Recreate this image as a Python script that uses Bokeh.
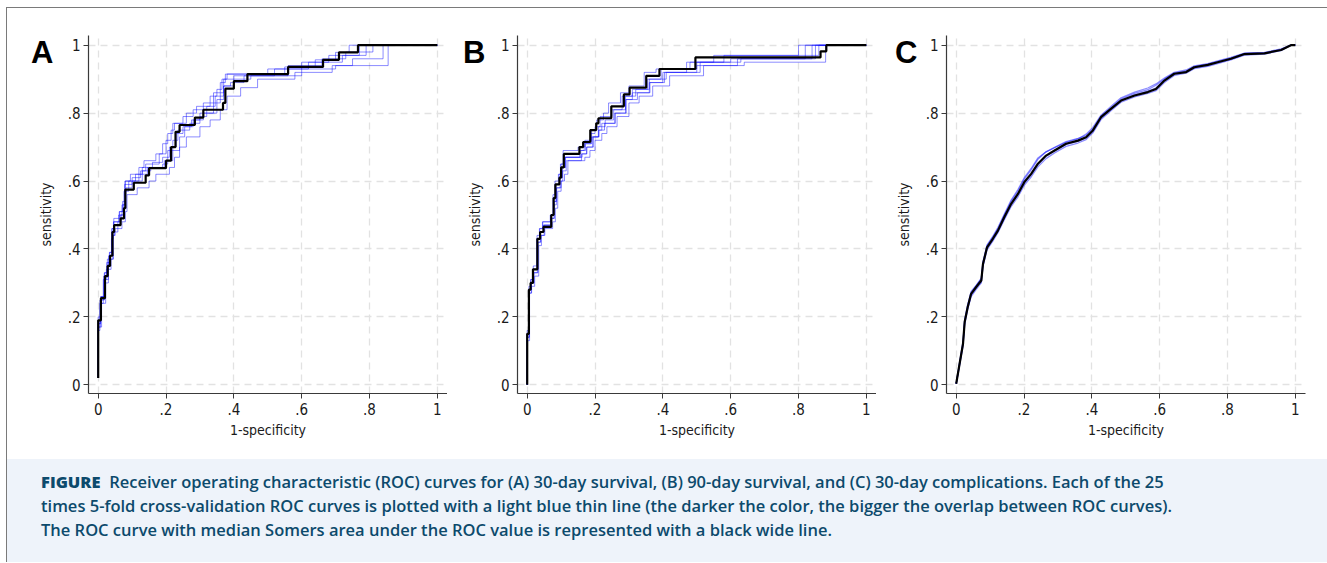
from bokeh.plotting import figure
from bokeh.models import Range1d, FixedTicker, Div, LinearAxis
from bokeh.layouts import row, column
from bokeh.embed import file_html
from bokeh.resources import INLINE

# ---------------- data ----------------
tick_values = [0, 0.2, 0.4, 0.6, 0.8, 1]
tick_labels = ["0", ".2", ".4", ".6", ".8", "1"]
panel_letters = ["A", "B", "C"]
x_title = "1-specificity"
y_title = "sensitivity"

# Panel A (30-day survival): step corners (fpr, tpr)
a_black_fpr = [0, 0, 0.008, 0.02, 0.028, 0.035, 0.042, 0.047, 0.066, 0.076, 0.08, 0.105, 0.14, 0.15, 0.2,
               0.215, 0.228, 0.24, 0.285, 0.31, 0.368, 0.375, 0.40, 0.44, 0.56, 0.663, 0.71, 0.766, 1.0]
a_black_tpr = [0.02, 0.19, 0.255, 0.32, 0.35, 0.38, 0.45, 0.47, 0.49, 0.52, 0.575, 0.595, 0.617, 0.638, 0.66,
               0.70, 0.745, 0.765, 0.787, 0.81, 0.83, 0.872, 0.894, 0.915, 0.936, 0.957, 0.979, 1.0, 1.0]
a_blue1_fpr = [0, 0, 0.006, 0.016, 0.025, 0.032, 0.04, 0.045, 0.06, 0.07, 0.078, 0.1, 0.125, 0.14, 0.18, 0.2,
               0.215, 0.225, 0.26, 0.29, 0.33, 0.35, 0.365, 0.38, 0.55, 0.64, 0.7, 0.74, 1]
a_blue1_tpr = [0.02, 0.17, 0.25, 0.32, 0.36, 0.38, 0.45, 0.48, 0.5, 0.53, 0.59, 0.61, 0.63, 0.65, 0.68, 0.72,
               0.75, 0.77, 0.8, 0.82, 0.85, 0.87, 0.9, 0.915, 0.936, 0.957, 0.979, 1, 1]
a_blue2_fpr = [0, 0, 0.01, 0.022, 0.03, 0.038, 0.045, 0.05, 0.07, 0.08, 0.085, 0.115, 0.15, 0.17, 0.21, 0.225,
               0.24, 0.26, 0.3, 0.33, 0.36, 0.38, 0.42, 0.47, 0.58, 0.69, 0.75, 0.84, 1]
a_blue2_tpr = [0.02, 0.17, 0.24, 0.3, 0.34, 0.37, 0.44, 0.46, 0.48, 0.51, 0.56, 0.58, 0.6, 0.62, 0.64, 0.67,
               0.7, 0.73, 0.76, 0.78, 0.81, 0.85, 0.875, 0.9, 0.92, 0.94, 0.96, 1, 1]
a_blue3_fpr = [0, 0, 0.007, 0.018, 0.027, 0.034, 0.041, 0.046, 0.062, 0.072, 0.08, 0.11, 0.13, 0.16, 0.19, 0.21,
               0.23, 0.25, 0.275, 0.3, 0.34, 0.36, 0.37, 0.45, 0.6, 0.7, 0.855, 1]
a_blue3_tpr = [0.02, 0.18, 0.26, 0.33, 0.37, 0.39, 0.46, 0.49, 0.51, 0.54, 0.6, 0.62, 0.64, 0.655, 0.67, 0.7,
               0.74, 0.76, 0.78, 0.8, 0.83, 0.86, 0.9, 0.91, 0.93, 0.94, 1, 1]
a_blue4_fpr = [0, 0, 0.009, 0.018, 0.03, 0.036, 0.043, 0.048, 0.065, 0.075, 0.082, 0.1, 0.12, 0.145, 0.19, 0.205,
               0.22, 0.235, 0.27, 0.3, 0.32, 0.345, 0.37, 0.4, 0.52, 0.62, 0.72, 0.79, 1]
a_blue4_tpr = [0.02, 0.2, 0.26, 0.31, 0.36, 0.37, 0.44, 0.47, 0.5, 0.52, 0.58, 0.6, 0.62, 0.64, 0.65, 0.69,
               0.72, 0.75, 0.77, 0.79, 0.82, 0.85, 0.88, 0.91, 0.93, 0.95, 0.97, 1, 1]
a_blue5_fpr = [0, 0, 0.005, 0.015, 0.024, 0.031, 0.039, 0.044, 0.058, 0.068, 0.076, 0.09, 0.13, 0.155, 0.195, 0.22,
               0.24, 0.255, 0.28, 0.31, 0.35, 0.37, 0.39, 0.43, 0.56, 0.66, 0.73, 0.81, 1]
a_blue5_tpr = [0.02, 0.16, 0.24, 0.31, 0.34, 0.38, 0.43, 0.45, 0.48, 0.5, 0.57, 0.6, 0.63, 0.64, 0.66, 0.69,
               0.73, 0.76, 0.78, 0.8, 0.84, 0.88, 0.89, 0.91, 0.94, 0.96, 0.98, 1, 1]
a_blue6_fpr = [0, 0, 0.006, 0.019, 0.026, 0.033, 0.04, 0.046, 0.063, 0.073, 0.079, 0.095, 0.12, 0.135, 0.17, 0.19,
               0.205, 0.22, 0.25, 0.28, 0.31, 0.34, 0.36, 0.375, 0.5, 0.6, 0.68, 0.77, 1]
a_blue6_tpr = [0.02, 0.18, 0.25, 0.33, 0.35, 0.39, 0.46, 0.48, 0.51, 0.53, 0.6, 0.62, 0.64, 0.66, 0.68, 0.71,
               0.74, 0.77, 0.79, 0.81, 0.83, 0.86, 0.89, 0.915, 0.93, 0.95, 0.97, 1, 1]

# Panel B (90-day survival)
b_black_fpr = [0, 0, 0.005, 0.01, 0.017, 0.03, 0.038, 0.048, 0.071, 0.078, 0.083, 0.095, 0.1, 0.108, 0.154,
               0.165, 0.186, 0.2035, 0.21, 0.248, 0.285, 0.302, 0.351, 0.39, 0.496, 0.865, 0.882, 1.0]
b_black_tpr = [0, 0.15, 0.28, 0.3, 0.34, 0.43, 0.45, 0.465, 0.5, 0.55, 0.59, 0.61, 0.64, 0.68, 0.70,
               0.715, 0.75, 0.77, 0.785, 0.82, 0.855, 0.875, 0.91, 0.93, 0.964, 0.982, 1.0, 1.0]
b_blue1_fpr = [0, 0, 0.006, 0.012, 0.02, 0.032, 0.04, 0.05, 0.07, 0.08, 0.087, 0.1, 0.105, 0.115, 0.16, 0.175,
               0.195, 0.21, 0.22, 0.26, 0.29, 0.31, 0.36, 0.4, 0.5, 0.62, 0.82, 1]
b_blue1_tpr = [0, 0.14, 0.27, 0.3, 0.33, 0.42, 0.44, 0.47, 0.49, 0.54, 0.58, 0.6, 0.63, 0.66, 0.68, 0.7,
               0.73, 0.75, 0.77, 0.8, 0.84, 0.86, 0.89, 0.92, 0.94, 0.96, 1, 1]
b_blue2_fpr = [0, 0, 0.005, 0.011, 0.018, 0.028, 0.036, 0.046, 0.068, 0.076, 0.082, 0.092, 0.098, 0.106, 0.15, 0.17,
               0.19, 0.205, 0.225, 0.24, 0.275, 0.3, 0.345, 0.38, 0.48, 0.58, 0.86, 1]
b_blue2_tpr = [0, 0.15, 0.29, 0.31, 0.35, 0.43, 0.46, 0.48, 0.5, 0.56, 0.6, 0.62, 0.65, 0.69, 0.7, 0.72,
               0.75, 0.78, 0.8, 0.83, 0.86, 0.88, 0.92, 0.93, 0.95, 0.97, 1, 1]
b_blue3_fpr = [0, 0, 0.007, 0.013, 0.022, 0.034, 0.042, 0.052, 0.075, 0.083, 0.09, 0.1, 0.11, 0.12, 0.17, 0.185,
               0.2, 0.22, 0.235, 0.265, 0.3, 0.33, 0.37, 0.42, 0.52, 0.64, 0.88, 1]
b_blue3_tpr = [0, 0.13, 0.27, 0.29, 0.32, 0.41, 0.44, 0.46, 0.48, 0.52, 0.57, 0.6, 0.62, 0.66, 0.67, 0.69,
               0.72, 0.74, 0.76, 0.79, 0.83, 0.85, 0.88, 0.91, 0.94, 0.95, 1, 1]
b_blue4_fpr = [0, 0, 0.004, 0.01, 0.016, 0.029, 0.037, 0.045, 0.07, 0.077, 0.084, 0.094, 0.1, 0.11, 0.155, 0.168,
               0.188, 0.2, 0.215, 0.25, 0.28, 0.31, 0.355, 0.395, 0.5, 0.6, 0.84, 1]
b_blue4_tpr = [0, 0.16, 0.28, 0.31, 0.34, 0.44, 0.46, 0.48, 0.5, 0.55, 0.59, 0.62, 0.65, 0.67, 0.69, 0.71,
               0.74, 0.76, 0.79, 0.81, 0.85, 0.87, 0.9, 0.93, 0.95, 0.96, 1, 1]
b_blue5_fpr = [0, 0, 0.006, 0.012, 0.019, 0.031, 0.039, 0.049, 0.072, 0.079, 0.086, 0.097, 0.102, 0.112, 0.158, 0.172,
               0.19, 0.21, 0.23, 0.255, 0.29, 0.32, 0.36, 0.41, 0.47, 0.55, 0.8, 1]
b_blue5_tpr = [0, 0.14, 0.28, 0.3, 0.34, 0.42, 0.45, 0.47, 0.49, 0.53, 0.58, 0.61, 0.64, 0.67, 0.69, 0.71,
               0.73, 0.76, 0.78, 0.81, 0.85, 0.87, 0.9, 0.92, 0.95, 0.97, 1, 1]
b_blue6_fpr = [0, 0, 0.005, 0.011, 0.018, 0.03, 0.038, 0.047, 0.069, 0.078, 0.085, 0.096, 0.104, 0.113, 0.162, 0.176,
               0.193, 0.212, 0.228, 0.258, 0.292, 0.325, 0.362, 0.405, 0.51, 0.63, 0.85, 1]
b_blue6_tpr = [0, 0.15, 0.28, 0.3, 0.33, 0.43, 0.45, 0.47, 0.5, 0.54, 0.59, 0.61, 0.64, 0.67, 0.68, 0.7,
               0.73, 0.75, 0.77, 0.8, 0.84, 0.86, 0.89, 0.92, 0.95, 0.96, 1, 1]

# Panel C (30-day complications)
c_fpr = [0, 0.01, 0.02, 0.025, 0.034, 0.044, 0.059, 0.074, 0.079, 0.091, 0.108, 0.123, 0.142, 0.162,
         0.182, 0.201, 0.221, 0.241, 0.265, 0.29, 0.324, 0.359, 0.383, 0.403, 0.427, 0.457, 0.486, 0.526,
         0.565, 0.589, 0.614, 0.643, 0.678, 0.702, 0.742, 0.771, 0.81, 0.85, 0.909, 0.958, 0.987, 1]
c_black_tpr = [0.003, 0.062, 0.12, 0.185, 0.229, 0.268, 0.288, 0.307, 0.356, 0.405, 0.43, 0.454, 0.494, 0.533,
               0.562, 0.597, 0.621, 0.651, 0.675, 0.69, 0.71, 0.719, 0.729, 0.749, 0.788, 0.813, 0.837, 0.852,
               0.862, 0.871, 0.896, 0.916, 0.921, 0.935, 0.942, 0.95, 0.96, 0.974, 0.976, 0.986, 1, 1]
c_blue1_tpr = [0.003, 0.066, 0.127, 0.192, 0.237, 0.275, 0.293, 0.314, 0.363, 0.412, 0.437, 0.463, 0.503, 0.544,
               0.575, 0.61, 0.637, 0.668, 0.686, 0.698, 0.714, 0.724, 0.738, 0.758, 0.794, 0.82, 0.845, 0.862,
               0.874, 0.886, 0.903, 0.92, 0.927, 0.939, 0.946, 0.954, 0.964, 0.977, 0.979, 0.989, 1, 1]
c_blue2_tpr = [0.003, 0.057, 0.113, 0.178, 0.222, 0.26, 0.281, 0.3, 0.348, 0.398, 0.423, 0.448, 0.486, 0.525,
               0.553, 0.588, 0.612, 0.642, 0.666, 0.683, 0.702, 0.712, 0.722, 0.742, 0.781, 0.808, 0.832, 0.848,
               0.858, 0.866, 0.89, 0.911, 0.918, 0.931, 0.938, 0.946, 0.957, 0.971, 0.974, 0.984, 1, 1]
c_blue3_tpr = [0.003, 0.064, 0.123, 0.189, 0.233, 0.271, 0.292, 0.312, 0.36, 0.409, 0.434, 0.459, 0.5, 0.54,
               0.57, 0.606, 0.633, 0.664, 0.686, 0.699, 0.716, 0.726, 0.734, 0.753, 0.791, 0.816, 0.841, 0.858,
               0.869, 0.882, 0.9, 0.918, 0.924, 0.937, 0.944, 0.952, 0.962, 0.975, 0.977, 0.987, 1, 1]
c_blue4_tpr = [0.003, 0.06, 0.118, 0.183, 0.227, 0.265, 0.286, 0.305, 0.353, 0.402, 0.428, 0.452, 0.491, 0.531,
               0.56, 0.594, 0.619, 0.649, 0.673, 0.689, 0.708, 0.717, 0.727, 0.747, 0.786, 0.812, 0.836, 0.854,
               0.865, 0.874, 0.897, 0.915, 0.921, 0.934, 0.941, 0.949, 0.959, 0.973, 0.976, 0.986, 1, 1]

caption_html = ("<b style='font-weight:800'>FIGURE</b>&nbsp; Receiver operating characteristic (ROC) curves for "
                "(A) 30-day survival, (B) 90-day survival, and (C) 30-day complications. Each of the 25<br>"
                "times 5-fold cross-validation ROC curves is plotted with a light blue thin line (the darker the "
                "color, the bigger the overlap between ROC curves).<br>"
                "The ROC curve with median Somers area under the ROC value is represented with a black wide line.")

# ---------------- styling ----------------
X_START, X_END = -0.0286, 1.030
Y_START, Y_END = -0.0256, 1.0286
LETTER_Y = 0.98
AX_FONT = "DejaVu Sans Condensed"
BLUE = "#0000ff"
FIG_H = 451


def make_panel(letter, black, blues, width, left, right, stepped, letter_standoff):
    p = figure(width=width, height=FIG_H, output_backend="svg", toolbar_location=None,
               x_range=Range1d(X_START, X_END), y_range=Range1d(Y_START, Y_END),
               min_border_left=left, min_border_right=right, min_border_top=27, min_border_bottom=66)
    p.outline_line_color = None
    p.background_fill_color = "white"
    p.border_fill_color = "white"
    for ax in (p.xaxis[0], p.yaxis[0]):
        ax.ticker = FixedTicker(ticks=tick_values, minor_ticks=[])
        ax.major_label_overrides = {v: s for v, s in zip(tick_values, tick_labels)}
        ax.axis_line_color = "#3a3a3a"
        ax.axis_line_width = 1.2
        ax.major_tick_line_color = "#3a3a3a"
        ax.major_tick_in = 0
        ax.major_tick_out = 5
        ax.minor_tick_line_color = None
        ax.major_label_text_font = AX_FONT
        ax.major_label_text_font_size = "15px"
        ax.major_label_text_color = "#1a1a1a"
        ax.axis_label_text_font = AX_FONT
        ax.axis_label_text_font_size = "14px"
        ax.axis_label_text_font_style = "normal"
        ax.axis_label_text_color = "#1a1a1a"
    p.xaxis.axis_label = x_title
    p.yaxis.axis_label = y_title
    p.yaxis.major_label_standoff = 3
    p.yaxis.axis_label_standoff = 11
    p.xaxis.major_label_standoff = 4
    p.xaxis.axis_label_standoff = 4
    p.yaxis.major_label_orientation = "horizontal"
    for g in (p.xgrid[0], p.ygrid[0]):
        g.ticker = FixedTicker(ticks=tick_values)
        g.grid_line_color = "#e2e2e2"
        g.grid_line_width = 1.3
        g.grid_line_dash = "7 5"

    # panel letter, carried by an extra (invisible) left axis
    lax = LinearAxis(ticker=FixedTicker(ticks=[LETTER_Y], minor_ticks=[]),
                     major_label_overrides={LETTER_Y: letter},
                     axis_line_color=None, major_tick_line_color=None, minor_tick_line_color=None,
                     major_tick_in=0, major_tick_out=0, major_label_standoff=letter_standoff,
                     major_label_orientation="horizontal",
                     major_label_text_font="Liberation Sans", major_label_text_font_style="bold",
                     major_label_text_font_size="31px", major_label_text_color="black")
    p.add_layout(lax, "left")

    for bx, by in blues:
        if stepped:
            p.step(bx, by, mode="after", line_color=BLUE, line_alpha=0.45, line_width=1)
        else:
            p.line(bx, by, line_color=BLUE, line_alpha=0.45, line_width=1.3)
    if stepped:
        p.step(black[0], black[1], mode="after", line_color="black", line_width=2.2)
    else:
        p.line(black[0], black[1], line_color="black", line_width=2.2)
    return p


pa = make_panel(panel_letters[0], (a_black_fpr, a_black_tpr),
                [(a_blue1_fpr, a_blue1_tpr), (a_blue2_fpr, a_blue2_tpr), (a_blue3_fpr, a_blue3_tpr),
                 (a_blue4_fpr, a_blue4_tpr), (a_blue5_fpr, a_blue5_tpr), (a_blue6_fpr, a_blue6_tpr)],
                width=440, left=81, right=0, stepped=True, letter_standoff=-19)
pb = make_panel(panel_letters[1], (b_black_fpr, b_black_tpr),
                [(b_blue1_fpr, b_blue1_tpr), (b_blue2_fpr, b_blue2_tpr), (b_blue3_fpr, b_blue3_tpr),
                 (b_blue4_fpr, b_blue4_tpr), (b_blue5_fpr, b_blue5_tpr), (b_blue6_fpr, b_blue6_tpr)],
                width=429, left=70, right=0, stepped=True, letter_standoff=-22)
pc = make_panel(panel_letters[2], (c_fpr, c_black_tpr),
                [(c_fpr, c_blue1_tpr), (c_fpr, c_blue2_tpr), (c_fpr, c_blue3_tpr), (c_fpr, c_blue4_tpr)],
                width=450, left=70, right=21, stepped=False, letter_standoff=-25)

LINE = "#7a7a7a"


def block(w, h, color):
    return Div(text="", width=w, height=h, margin=0,
               styles={"background-color": color, "overflow": "hidden"})


CAP_H = 103
caption = Div(text=("<div style=\"box-sizing:border-box;width:1320px;height:" + str(CAP_H) + "px;"
                    "background:#eef3fa;padding:11px 0 0 34px;font-family:'Open Sans';font-size:16.5px;"
                    "font-weight:600;line-height:24px;color:#0c4a6c;white-space:nowrap;\">"
                    + caption_html + "</div>"),
              width=1320, height=CAP_H, margin=0)

right_part = column(block(1320, 7, "white"),
                    block(1320, 1, LINE),
                    row(pa, pb, pc),
                    caption)
layout = row(block(6, 7, "white"),
             column(block(1, 7, "white"), block(1, FIG_H + 1 + CAP_H, LINE)),
             right_part)

open("out.html", "w").write(file_html(layout, INLINE))
